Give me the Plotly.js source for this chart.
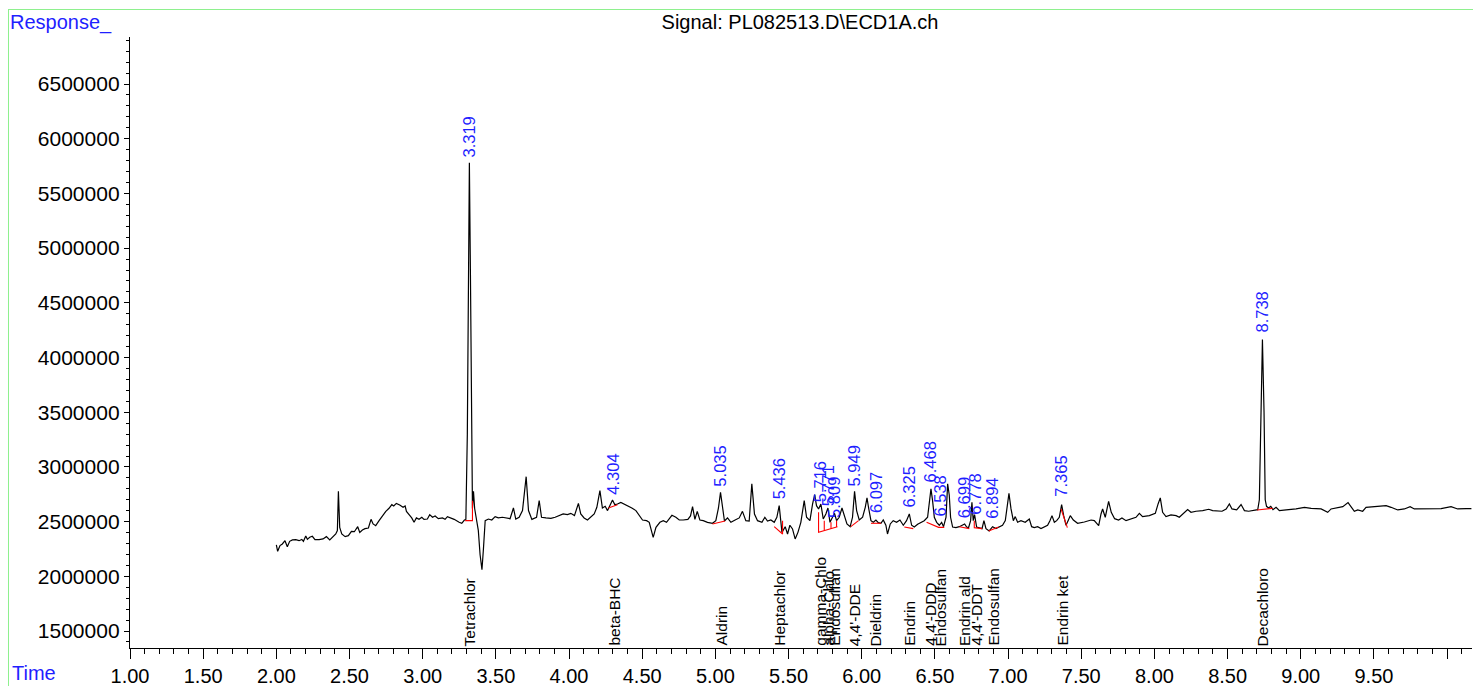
<!DOCTYPE html>
<html>
<head>
<meta charset="utf-8">
<script src="https://cdn.plot.ly/plotly-3.0.1.min.js"></script>
<style>
  html, body { margin: 0; padding: 0; background: #fff; }
  #chart { width: 1473px; height: 686px; }
  #frame { position: absolute; left: 8px; top: 9px; width: 1480px; height: 700px;
           border-left: 1px solid #8ef08e; border-top: 1px solid #8ef08e; pointer-events: none; }
</style>
</head>
<body>
<div id="chart"></div>
<div id="frame"></div>
<script>
// ---- Signal trace (retention time in min, detector response) ----
const rt = [
2.000,2.009,2.025,2.041,2.059,2.075,2.091,2.110,2.133,2.155,2.174,2.185,2.201,2.212,2.228,2.246,2.264,2.292,2.319,2.342,
2.365,2.383,2.406,2.417,2.424,2.433,2.447,2.470,2.492,2.513,2.533,2.556,2.570,2.588,2.606,2.629,2.647,2.661,2.679,2.702,
2.724,2.748,2.770,2.789,2.802,2.820,2.843,2.866,2.880,2.889,2.907,2.925,2.941,2.957,2.975,2.994,3.009,3.032,3.048,3.067,
3.085,3.107,3.135,3.153,3.169,3.180,3.215,3.249,3.267,3.285,3.295,3.305,3.312,3.319,3.326,3.333,3.340,3.347,3.355,3.365,
3.380,3.392,3.405,3.415,3.427,3.449,3.472,3.495,3.517,3.545,3.572,3.597,3.620,3.636,3.659,3.682,3.707,3.723,3.746,3.778,
3.796,3.812,3.842,3.876,3.905,3.933,3.960,3.989,4.012,4.037,4.064,4.080,4.103,4.126,4.149,4.172,4.190,4.211,4.228,4.247,
4.263,4.279,4.297,4.313,4.331,4.354,4.377,4.399,4.429,4.457,4.479,4.502,4.530,4.548,4.575,4.594,4.621,4.644,4.666,4.703,
4.730,4.753,4.780,4.812,4.830,4.844,4.860,4.876,4.894,4.917,4.946,4.980,5.003,5.021,5.035,5.049,5.062,5.083,5.106,5.135,
5.163,5.185,5.208,5.231,5.249,5.267,5.288,5.318,5.338,5.356,5.379,5.402,5.420,5.436,5.448,5.455,5.477,5.493,5.509,5.527,
5.545,5.564,5.584,5.607,5.623,5.646,5.664,5.678,5.691,5.705,5.721,5.737,5.755,5.769,5.783,5.801,5.814,5.828,5.846,5.865,
5.880,5.899,5.921,5.937,5.951,5.965,5.983,6.006,6.024,6.036,6.047,6.063,6.079,6.097,6.113,6.131,6.147,6.165,6.176,6.195,
6.215,6.238,6.261,6.284,6.306,6.325,6.341,6.359,6.382,6.404,6.427,6.450,6.461,6.473,6.484,6.496,6.512,6.530,6.546,6.559,
6.576,6.587,6.598,6.607,6.621,6.644,6.667,6.689,6.703,6.717,6.730,6.744,6.753,6.762,6.771,6.785,6.803,6.822,6.835,6.849,
6.871,6.894,6.917,6.940,6.962,6.981,6.994,7.006,7.020,7.036,7.049,7.065,7.088,7.117,7.145,7.161,7.179,7.202,7.225,7.248,
7.270,7.286,7.300,7.316,7.332,7.350,7.366,7.380,7.396,7.410,7.425,7.446,7.475,7.521,7.567,7.589,7.619,7.635,7.646,7.664,
7.687,7.705,7.728,7.755,7.778,7.806,7.840,7.874,7.897,7.919,7.965,8.006,8.025,8.040,8.056,8.079,8.113,8.148,8.170,8.204,
8.227,8.250,8.284,8.330,8.371,8.398,8.432,8.462,8.490,8.512,8.530,8.562,8.592,8.615,8.644,8.683,8.706,8.717,8.727,8.738,
8.749,8.757,8.766,8.780,8.795,8.810,8.831,8.854,8.900,8.968,9.025,9.071,9.139,9.184,9.207,9.252,9.287,9.323,9.344,9.366,
9.389,9.423,9.446,9.515,9.583,9.617,9.663,9.708,9.747,9.776,9.845,9.902,9.959,10.027,10.072,10.130,10.166
];
const response = [
2287000,2229000,2281000,2296000,2326000,2271000,2320000,2333000,2335000,2326000,2338000,2320000,2369000,2338000,2357000,2366000,2335000,2335000,2342000,2363000,
2333000,2357000,2387000,2418000,2777000,2448000,2387000,2363000,2372000,2411000,2408000,2454000,2402000,2424000,2436000,2442000,2521000,2479000,2463000,2509000,
2555000,2594000,2622000,2655000,2643000,2667000,2652000,2631000,2643000,2594000,2564000,2534000,2494000,2534000,2521000,2540000,2521000,2524000,2564000,2540000,
2552000,2527000,2534000,2521000,2546000,2540000,2521000,2494000,2485000,2515000,2520000,3300000,5000000,5780000,4800000,3200000,2620000,2777000,2620000,2540000,
2420000,2200000,2060000,2250000,2509000,2524000,2515000,2546000,2534000,2540000,2534000,2527000,2625000,2524000,2540000,2601000,2911000,2601000,2521000,2540000,
2692000,2540000,2534000,2530000,2540000,2558000,2570000,2564000,2576000,2555000,2667000,2570000,2534000,2515000,2540000,2570000,2631000,2783000,2625000,2640000,
2601000,2640000,2698000,2655000,2661000,2676000,2661000,2646000,2625000,2601000,2555000,2515000,2509000,2494000,2357000,2448000,2494000,2509000,2494000,2558000,
2540000,2515000,2515000,2521000,2552000,2637000,2521000,2594000,2515000,2509000,2494000,2485000,2509000,2625000,2768000,2646000,2506000,2534000,2494000,2515000,
2534000,2594000,2509000,2506000,2845000,2570000,2509000,2494000,2540000,2506000,2515000,2494000,2540000,2646000,2509000,2402000,2454000,2387000,2467000,2433000,
2342000,2402000,2494000,2692000,2540000,2509000,2661000,2747000,2646000,2616000,2661000,2524000,2570000,2625000,2494000,2540000,2576000,2509000,2540000,2625000,
2555000,2479000,2454000,2540000,2777000,2601000,2515000,2540000,2631000,2717000,2625000,2509000,2494000,2515000,2491000,2485000,2515000,2467000,2387000,2479000,
2509000,2494000,2515000,2467000,2509000,2570000,2467000,2451000,2476000,2494000,2509000,2540000,2692000,2799000,2692000,2540000,2494000,2467000,2494000,2454000,
2540000,2845000,2744000,2540000,2451000,2445000,2454000,2467000,2479000,2451000,2445000,2509000,2677000,2509000,2564000,2451000,2445000,2436000,2509000,2436000,
2415000,2454000,2436000,2454000,2467000,2509000,2661000,2759000,2616000,2509000,2546000,2494000,2509000,2494000,2524000,2454000,2445000,2454000,2436000,2451000,
2467000,2509000,2555000,2494000,2509000,2540000,2655000,2555000,2467000,2509000,2555000,2515000,2485000,2497000,2515000,2509000,2463000,2570000,2616000,2540000,
2686000,2585000,2527000,2515000,2534000,2509000,2527000,2540000,2576000,2546000,2555000,2576000,2662000,2717000,2585000,2546000,2561000,2555000,2540000,2585000,
2610000,2585000,2595000,2601000,2613000,2601000,2601000,2595000,2616000,2662000,2616000,2607000,2656000,2601000,2595000,2601000,2610000,2700000,3500000,4165000,
3500000,2700000,2640000,2625000,2640000,2610000,2631000,2601000,2607000,2616000,2631000,2622000,2616000,2585000,2616000,2625000,2637000,2674000,2631000,2595000,
2607000,2595000,2631000,2637000,2646000,2631000,2607000,2616000,2637000,2616000,2616000,2622000,2619000,2637000,2616000,2619000,2619000
];

// ---- Integration baselines (red), segments separated by null ----
const baseRt = [3.290,3.340,3.340,null, 4.269,4.331,null, 4.980,5.066,null, 5.402,5.459,5.459,null,
  5.705,5.705,5.834,null, 5.744,5.744,null, 5.790,5.790,null, 5.828,5.828,null, 5.925,5.978,null,
  6.063,6.131,null, 6.291,6.352,null, 6.443,6.525,6.564,null, 6.667,6.735,null, 6.769,6.769,6.822,null,
  6.867,6.935,null, 7.362,7.405,null, 8.701,8.808];
const baseResp = [2509000,2509000,2690000,null, 2625000,2655000,null, 2479000,2506000,null, 2454000,2387000,2509000,null,
  2585000,2402000,2454000,null, 2418000,2509000,null, 2436000,2494000,null, 2452000,2509000,null, 2454000,2509000,null,
  2485000,2485000,null, 2451000,2436000,null, 2494000,2448000,2448000,null, 2454000,2436000,null, 2509000,2445000,2436000,null,
  2415000,2451000,null, 2616000,2445000,null, 2607000,2622000];

// ---- Peak retention-time labels (blue) ----
const peakRt = [3.319,4.304,5.035,5.436,5.716,5.771,5.809,5.949,6.097,6.325,6.468,6.538,6.699,6.778,6.894,7.365,8.738];
const peakLabelResp = [5818000,2738000,2811000,2692000,2665000,2628000,2527000,2811000,2573000,2619000,2847000,2537000,2518000,2555000,2518000,2719000,4219000];

// ---- Compound names (black, at axis) ----
const compoundRt = [3.319,4.304,5.035,5.436,5.716,5.771,5.809,5.949,6.097,6.325,6.468,6.538,6.699,6.778,6.894,7.365,8.738];
const compoundNames = ["Tetrachlor","beta-BHC","Aldrin","Heptachlor","gamma-Chlo","alpha-Chlo","Endosulfan","4,4'-DDE","Dieldrin","Endrin","4,4'-DDD","Endosulfan","Endrin ald","4,4'-DDT","Endosulfan","Endrin ket","Decachloro"];

// ---- Axis ticks ----
const xTickVals = [1.0,1.5,2.0,2.5,3.0,3.5,4.0,4.5,5.0,5.5,6.0,6.5,7.0,7.5,8.0,8.5,9.0,9.5,10.0];
const xTickText = ["1.00","1.50","2.00","2.50","3.00","3.50","4.00","4.50","5.00","5.50","6.00","6.50","7.00","7.50","8.00","8.50","9.00","9.50",""];
const yTickVals = [1500000,2000000,2500000,3000000,3500000,4000000,4500000,5000000,5500000,6000000,6500000];
const yTickText = ["1500000","2000000","2500000","3000000","3500000","4000000","4500000","5000000","5500000","6000000","6500000"];

const FONT = "Liberation Sans, Arial, sans-serif";
const BLUE = "#1f1fff";

const traces = [
  { x: rt, y: response, type: "scatter", mode: "lines", line: { color: "#000", width: 1.2 }, hoverinfo: "skip" },
  { x: baseRt, y: baseResp, type: "scatter", mode: "lines", connectgaps: false, line: { color: "#ff0000", width: 1.1 }, hoverinfo: "skip" }
];

const annotations = [];
peakRt.forEach((t, i) => annotations.push({
  x: t, y: peakLabelResp[i], xref: "x", yref: "y", text: peakRt[i].toFixed(3), textangle: -90,
  showarrow: false, xanchor: "center", yanchor: "bottom", borderpad: 0,
  font: { family: FONT, size: 16.5, color: BLUE }
}));
compoundRt.forEach((t, i) => annotations.push({
  x: t, y: 0, xref: "x", yref: "paper", text: compoundNames[i], textangle: -90,
  showarrow: false, xanchor: "center", yanchor: "bottom", borderpad: 0, yshift: 1,
  font: { family: FONT, size: 15.5, color: "#000" }
}));
annotations.push({ x: -0.0909, y: 1.0245, xref: "paper", yref: "paper", text: "Response_", showarrow: false,
  xanchor: "left", yanchor: "middle", font: { family: FONT, size: 20, color: BLUE } });
annotations.push({ x: -0.0894, y: -0.041, xref: "paper", yref: "paper", text: "Time", showarrow: false,
  xanchor: "left", yanchor: "middle", font: { family: FONT, size: 20, color: BLUE } });

const layout = {
  width: 1473, height: 686,
  margin: { l: 130, r: 1, t: 37, b: 38 },
  paper_bgcolor: "#fff", plot_bgcolor: "#fff",
  showlegend: false, hovermode: false,
  title: { text: "Signal: PL082513.D\\ECD1A.ch", x: 800/1473, xref: "container", xanchor: "center",
           y: 1 - 22/686, yref: "container", yanchor: "middle", font: { family: FONT, size: 20, color: "#000" } },
  xaxis: {
    range: [1.0, 10.17], tickmode: "array", tickvals: xTickVals, ticktext: xTickText,
    ticks: "outside", ticklen: 10, tickwidth: 1, tickcolor: "#000",
    minor: { tickmode: "linear", tick0: 1, dtick: 0.1, ticks: "outside", ticklen: 5, tickwidth: 1, tickcolor: "#000", showgrid: false },
    showline: true, linecolor: "#000", linewidth: 1.2, showgrid: false, zeroline: false,
    tickfont: { family: FONT, size: 20, color: "#000" }, title: { text: "" }
  },
  yaxis: {
    range: [1345000, 6930000], tickmode: "array", tickvals: yTickVals, ticktext: yTickText,
    ticks: "outside", ticklen: 5, tickwidth: 1, tickcolor: "#000",
    minor: { tickmode: "linear", tick0: 1500000, dtick: 100000, ticks: "outside", ticklen: 3, tickwidth: 1, tickcolor: "#000", showgrid: false },
    showline: true, linecolor: "#000", linewidth: 1.2, showgrid: false, zeroline: false,
    tickfont: { family: FONT, size: 21, color: "#000" }, title: { text: "" }
  },
  annotations: annotations
};

Plotly.newPlot("chart", traces, layout, { staticPlot: true, displayModeBar: false });
</script>
</body>
</html>
